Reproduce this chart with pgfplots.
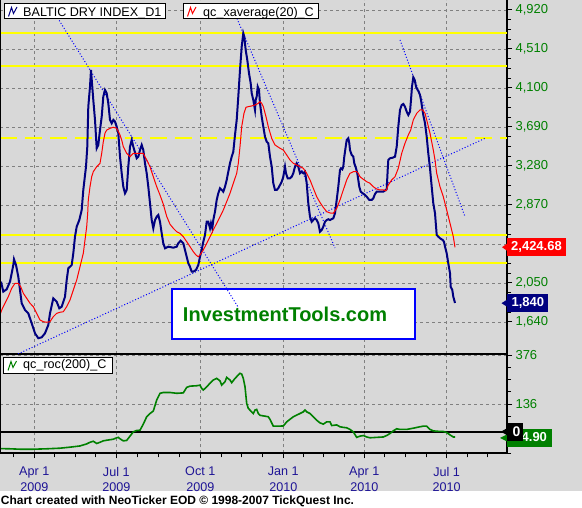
\documentclass[border=0pt]{standalone}
\usepackage{fontspec}
\setmainfont{Liberation Sans}
\usepackage{pgfplots}
\pgfplotsset{compat=1.18}
\definecolor{bg}{RGB}{216,216,216}
\definecolor{navyl}{RGB}{0,0,128}
\definecolor{tgreen}{RGB}{0,128,0}
\definecolor{xlab}{RGB}{30,20,150}
\definecolor{gridg}{RGB}{128,128,128}
\definecolor{yel}{RGB}{255,255,0}
\definecolor{tblue}{RGB}{0,0,255}
\pgfplotsset{
  panel/.style={
    scale only axis, width=507pt, xmin=0, xmax=507,
    axis x line*=bottom, axis y line*=right,
    axis line style={-, line width=2pt, black},
    xtick={34.3,116.3,200.3,283.3,364.3,446.7},
    tick align=outside, major tick length=5pt, minor tick length=4pt,
    tick style={black, line width=1pt},
    yticklabel style={font=\fontsize{13}{13}\selectfont, text=tgreen},
    grid=major, major grid style={gridg, line width=0.8pt, dash pattern=on 3pt off 3pt},
  },
}
\begin{document}
\begin{tikzpicture}[x=1pt,y=1pt]
\useasboundingbox (0,0) rectangle (582,508);
\fill[bg] (0,0) rectangle (582,508);
\fill[white] (0,0) rectangle (582,16.5);

% lower panel: rate of change
\begin{axis}[panel, at={(0pt,54.5pt)}, anchor=south west, height=99.5pt,
  ymin=-106, ymax=381.6,
  xticklabels={{Apr 1\\2009},{Jul 1\\2009},{Oct 1\\2009},{Jan 1\\2010},{Apr 1\\2010},{Jul 1\\2010}},
  minor xtick={13.8,54.8,75.3,95.8,137.3,158.3,179.3,221.1,241.8,262.6,303.6,323.8,344.1,384.9,405.5,426.1,467.3,487.9},
  xticklabel style={align=center, font=\fontsize{12.6}{15.8}\selectfont, text=xlab, yshift=-5pt},
  ytick={136,376}, yticklabels={136,376},
  minor ytick={-104,-44,16,76,196,256,316},
]
\addplot[black, line width=2pt] coordinates {(0,0) (507,0)};
\addplot[tgreen, line width=1.6pt] coordinates {
(0,-82) (10,-83) (20,-85) (33.3,-85) (46.7,-83) (60,-80) (70,-75) (80,-69)
(86.7,-59) (90,-51) (93.3,-46) (96.7,-57) (100,-51) (103.3,-44) (106.7,-41)
(113.3,-36) (116.7,-29) (118.3,-27) (120,-34) (123.3,-44) (126.7,-42) (130,-21)
(133.3,0) (136.7,7) (140,8) (143.3,38) (146.7,74) (150,90) (153.3,102) (156.7,156)
(160,189) (163.3,193) (170,193) (176.7,189) (183.3,191) (186.7,218) (190,224)
(196.7,226) (200,229) (201.7,213) (203.3,205) (206.7,221) (210,238) (213.3,254)
(216.7,262) (220,250) (221.7,229) (225,246) (226.7,267) (230,254) (231.7,241)
(235,262) (240,287) (241.7,283) (243.3,262) (245,221) (246.7,139) (248.3,115)
(251.7,98) (253.3,90) (255,107) (256.7,110) (258.3,90) (260,81) (265,77)
(268.3,74) (270,61) (273.3,28) (278.3,28) (283.3,29) (286.7,49) (293.3,74)
(300,90) (303.3,98) (305,107) (306.7,98) (310,90) (313.3,74) (316.7,57)
(320,44) (323.3,38) (326.7,49) (330,49) (331.7,31) (336.7,34) (340,25)
(343.3,22) (346.7,20) (350,12) (353.3,0) (356.7,-27) (360,-21) (363.3,-18)
(366.7,-25) (370,-29) (376.7,-27) (383.3,-25) (386.7,-18) (390,-8) (393.3,5)
(396.7,15) (400,12) (406.7,12) (413.3,18) (420,25) (423.3,28) (426.7,28)
(430,12) (433.3,5) (436.7,3) (443.3,2) (446.7,-3) (450,-15) (453.3,-25) (455,-25)
};
\end{axis}

% upper panel: Baltic Dry Index
\begin{axis}[panel, at={(0pt,154pt)}, anchor=south west, height=354pt,
  ymin=1303.5, ymax=5025,
  xticklabels={}, xtick style={draw=none},
  ytick={1640,2050,2460,2870,3280,3690,4100,4510,4920},
  yticklabels={{1,640},{2,050},{},{2,870},{3,280},{3,690},{4,100},{4,510},{4,920}},
  minor y tick num=3,
]
\addplot[yel, line width=2pt] coordinates {(0,4681) (507,4681)};
\addplot[yel, line width=2pt] coordinates {(0,4331) (507,4331)};
\addplot[yel, line width=2pt, dash pattern=on 17pt off 8pt] coordinates {(0,3571) (507,3571)};
\addplot[yel, line width=2pt] coordinates {(0,2555) (507,2555)};
\addplot[yel, line width=2pt] coordinates {(0,2263) (507,2263)};
\draw[fill=white, draw=tblue, line width=2pt] (axis cs:171.7,1984) rectangle (axis cs:415,1458);
\node[text=tgreen, font=\bfseries\fontsize{20}{20}\selectfont] at (axis cs:285,1724) {InvestmentTools.com};
\addplot[tblue, line width=1pt, dash pattern=on 1pt off 2pt] coordinates {(56,4864) (238,1798)};
\addplot[tblue, line width=1pt, dash pattern=on 1pt off 2pt] coordinates {(18,1304) (485,3571)};
\addplot[tblue, line width=1pt, dash pattern=on 1pt off 2pt] coordinates {(237,4830) (335,2418)};
\addplot[tblue, line width=1pt, dash pattern=on 1pt off 2pt] coordinates {(400,4605) (465,2747)};
\addplot[navyl, line width=2pt] coordinates {
(1,2064) (3.3,1959) (6.7,1984) (10,2064) (11.7,2152) (13.3,2239) (14,2299) (16,2239)
(18.3,2116) (20,1976) (21.7,1837) (25,1766) (28.3,1731) (31.7,1626) (35,1521)
(38.3,1469) (41.7,1479) (45,1521) (48.3,1608) (50,1731) (53.3,1889) (56.7,1853)
(59.3,1784) (61.7,1801) (65,1906) (66.7,2081) (68.3,2204) (71.7,2239) (73.3,2362)
(75,2537) (76.7,2642) (79.3,2712) (81.7,2817) (83.3,3028) (86,3273) (87.3,3483)
(88.3,3903) (90,4114) (91,4289) (92,4149) (93.3,3974) (95,3764) (96.7,3466)
(98.3,3501) (100,3658) (101.7,3798) (103.3,4009) (105,4079) (106.7,4044)
(108.3,3939) (110,3764) (111.7,3729) (113.3,3764) (115,3746) (116.7,3693)
(118.3,3624) (120,3378) (121.7,3203) (123.3,3062) (125,2993) (126.7,3028)
(128.3,3273) (130,3483) (131.7,3553) (133.3,3483) (136.7,3361) (138.3,3378)
(140,3448) (141.7,3501) (143.3,3448) (145,3308) (146.7,3203) (148.3,3062)
(150,2888) (151.7,2712) (153.3,2625) (155,2712) (156.7,2747) (158.3,2765)
(160,2694) (161.7,2572) (163.3,2467) (165,2415) (168.3,2432) (173.3,2421)
(176.7,2432) (178.3,2467) (180.7,2495) (183.3,2467) (185,2397) (186.7,2326)
(188.3,2257) (190,2221) (191.7,2169) (193.3,2169) (196,2187) (198.3,2239)
(200,2326) (201.7,2397) (203.3,2484) (205,2555) (206.7,2694) (208.3,2694)
(210,2625) (211,2678) (212.3,2625) (213.3,2712) (215,2800) (216.7,2923)
(218.3,2993) (220,3046) (221.7,3028) (223.3,3010) (225,3062) (226.7,3133)
(228.3,3220) (230,3308) (231.7,3378) (233.3,3430) (235,3606) (236.7,3764)
(238.3,4009) (240,4289) (241.7,4534) (243.3,4675) (244.3,4639) (245.7,4499)
(247.3,4394) (249,4255) (250.7,4149) (251.7,4044) (253.3,3974) (255,3869)
(255.7,3974) (256.7,4009) (257.7,4114) (259,4079) (260,3939) (261.7,3798)
(263.3,3693) (265,3588) (266.7,3535) (268.3,3519) (270,3378) (271.7,3273)
(273.3,3098) (275,3028) (276.7,3028) (278.3,3046) (280,3080) (281.7,3115)
(283.3,3167) (285,3273) (286,3203) (287.7,3151) (290,3151) (291.7,3167)
(293.3,3203) (295,3273) (296.7,3308) (298.3,3273) (300,3203) (301.7,3220)
(303.3,3203) (305,3220) (306.7,3098) (308.3,2888) (310,2747) (311.7,2694)
(313.3,2712) (315,2730) (316.7,2712) (318.3,2678) (320,2589) (321.7,2607)
(323.3,2642) (325,2694) (326.7,2712) (328.3,2720) (330,2712) (333.3,2730)
(335,2783) (336.7,2923) (338.3,3062) (340,3238) (341,3256) (342.3,3245)
(343.3,3273) (344.3,3378) (345.7,3483) (346.7,3553) (348.3,3571) (349.3,3519)
(350,3448) (351.7,3396) (353.3,3378) (354.3,3308) (356,3256) (357.3,3203)
(358.3,3133) (359.3,3062) (360.7,3010) (362.7,2993) (365,2975) (366.7,2957)
(369.3,2923) (371.7,2923) (373.3,2940) (375,2986) (376.7,3010) (380,3010)
(383.3,3010) (386.7,3035) (387.7,3238) (388.3,3343) (390,3361) (392.7,3367)
(395,3378) (396.7,3483) (398.3,3693) (400,3869) (401.7,3921) (403.3,3932)
(405,3903) (406.7,3851) (408.3,3816) (410,3851) (411,3974) (412,4114)
(413.3,4212) (414.7,4184) (416,4114) (417.3,4086) (418.7,4061) (420,4026)
(421,3974) (422,3904) (423.3,3816) (425,3729) (426.7,3588) (428.3,3413)
(430,3256) (431.7,3062) (433.3,2888) (435,2783) (436.7,2555) (438.3,2537)
(440,2520) (442.7,2502) (444,2484) (445,2432) (446.7,2362) (448.3,2257)
(450,2152) (450.7,2011) (452.3,1976) (453.3,1906) (455,1840)
};
\addplot[red, line width=1pt] coordinates {
(0,1714) (1.7,1766) (5,1837) (8.3,1906) (11.7,1994) (15,2047) (18.3,2047)
(20.7,2011) (23.3,1942) (26.7,1889) (30,1837) (33.3,1801) (36.7,1731) (40,1661)
(43.3,1643) (46.7,1637) (50,1643) (53.3,1696) (56.7,1731) (60,1742) (63.3,1748)
(66.7,1801) (70,1871) (73.3,1976) (76.7,2081) (80,2221) (83.3,2362) (85,2502)
(86.7,2642) (87.7,2783) (88.3,2923) (90,3062) (91.7,3167) (93.3,3220)
(96.7,3273) (100,3308) (101.7,3413) (103.3,3535) (105,3624) (106.7,3658)
(110,3676) (113.3,3687) (116.7,3676) (120,3606) (121.7,3553) (123.3,3483)
(126.7,3413) (130,3378) (133.3,3413) (136.7,3413) (140,3413) (143.3,3413)
(146.7,3343) (150,3273) (153.3,3167) (156.7,3062) (160,2975) (163.3,2878)
(166.7,2750) (170,2668) (173.3,2625) (176.7,2589) (180,2572) (183.3,2537)
(186.7,2484) (190,2432) (193.3,2379) (196,2344) (198.3,2326) (200,2344)
(203.3,2397) (206.7,2467) (210,2537) (213.3,2607) (216.7,2678) (220,2747)
(223.3,2817) (226.7,2905) (230,2993) (233.3,3098) (236.7,3203) (238.3,3308)
(240,3483) (241.7,3693) (244,3834) (246,3897) (248.3,3904) (251.7,3911)
(255,3921) (258.3,3939) (260,3956) (261.7,3939) (263.3,3904) (266,3798)
(268.3,3693) (271.7,3571) (275,3501) (280,3466) (283.3,3448) (286.7,3396)
(290,3343) (293.3,3308) (296.7,3290) (300,3273) (303.3,3256) (306.7,3203)
(310,3133) (313.3,3046) (316.7,2957) (320,2896) (323.3,2845) (326.7,2800)
(330,2786) (333.3,2783) (336.7,2835) (340,2923) (343.3,3028) (346.7,3133)
(350,3203) (353.3,3220) (356.7,3220) (358.3,3203) (360,3167) (363.3,3140)
(366.7,3115) (370,3098) (373.3,3062) (376.7,3038) (380,3028) (383.3,3028)
(386,3020) (388.3,3080) (391.7,3133) (395,3167) (398.3,3256) (401.7,3413)
(405,3519) (408.3,3606) (410.7,3658) (413.3,3764) (416.7,3834) (420,3869)
(422.7,3869) (425,3834) (426.7,3764) (430,3624) (433.3,3448) (435,3343)
(436.7,3203) (440,3062) (443.3,2957) (446.7,2817) (450,2678) (453.3,2537)
(455,2425)
};
\end{axis}

% left frame edge
\draw[black, line width=1pt] (0.5,54.5) -- (0.5,508);

% legends
\draw[fill=white, draw=black, line width=1pt] (4,489) rectangle (165,504);
\draw[navyl, line width=1pt] (8.5,491.5) -- (11.5,500.5) -- (13.5,494.5) -- (17,501);
\node[anchor=base west, inner sep=0, font=\fontsize{12.6}{14}\selectfont] at (23,491.5) {BALTIC DRY INDEX\_D1};
\draw[fill=white, draw=black, line width=1pt] (183,489) rectangle (318,504);
\draw[red, line width=1pt] (187.5,491.5) -- (190.5,500.5) -- (192.5,494.5) -- (196,501);
\node[anchor=base west, inner sep=0, font=\fontsize{12.6}{14}\selectfont] at (203,491.5) {qc\_xaverage(20)\_C};
\draw[fill=white, draw=black, line width=1pt] (3.3,134.7) rectangle (112.3,150.7);
\draw[tgreen, line width=1pt] (8,137.5) -- (11,146.5) -- (13,140.5) -- (16.5,147);
\node[anchor=base west, inner sep=0, font=\fontsize{12.6}{14}\selectfont] at (23,139) {qc\_roc(200)\_C};

% last-value labels
\fill[red] (502,260.8) -- (507,264.3) -- (507,257.3) -- cycle;
\fill[red] (507,252) rectangle (566,269.7);
\node[text=white, font=\bfseries\fontsize{13}{13}\selectfont] at (536.5,260.8) {2,424.68};
\fill[navyl] (501.5,204.8) -- (507,208.3) -- (507,201.3) -- cycle;
\fill[navyl] (507.3,195.7) rectangle (548.3,214);
\node[text=white, font=\bfseries\fontsize{13}{13}\selectfont] at (527.8,204.8) {1,840};
\fill[tgreen] (500,70) -- (507,73.5) -- (507,66.5) -- cycle;
\fill[tgreen] (507,61.3) rectangle (551.7,78.7);
\node[anchor=east, text=white, font=\bfseries\fontsize{13}{13}\selectfont] at (550.5,70.5) {-24.90};
\fill[black] (501,76.3) -- (507,79.8) -- (507,72.8) -- cycle;
\fill[black] (507.3,67.3) rectangle (522.7,84.7);
\node[text=white, font=\bfseries\fontsize{14}{14}\selectfont] at (516.5,76.3) {0};

% footer
\node[anchor=base west, inner sep=0, font=\bfseries\fontsize{12}{12}\selectfont] at (0.7,3.5) {Chart created with NeoTicker EOD © 1998-2007 TickQuest Inc.};
\end{tikzpicture}
\end{document}
